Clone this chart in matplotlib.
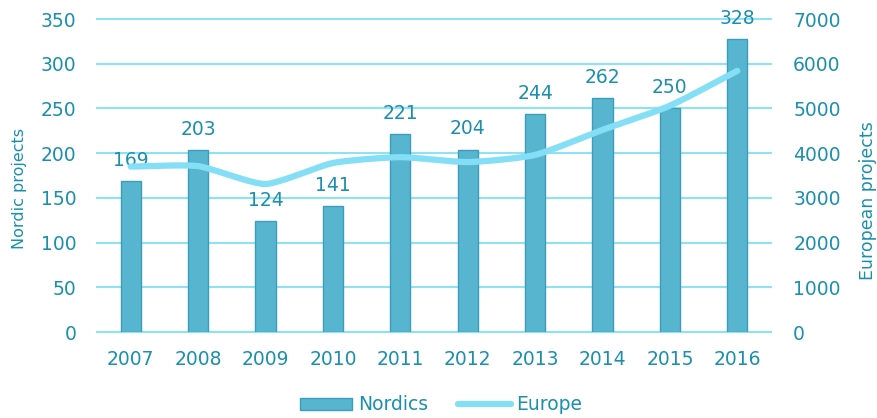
import numpy as np
import matplotlib.pyplot as plt

years = ['2007', '2008', '2009', '2010', '2011', '2012', '2013', '2014', '2015', '2016']
nordics = [169, 203, 124, 141, 221, 204, 244, 262, 250, 328]
europe = [3700, 3710, 3310, 3780, 3910, 3800, 3960, 4520, 5060, 5840]

text_col = '#1a8fae'
bar_col = '#57b5cf'
bar_edge = '#3c9dbb'
line_col = '#84def5'
grid_col = '#8fe2f6'


def smooth(xs, ys, n=20, tension=0.6):
    # cardinal spline through the points, like a smoothed Excel line
    xs = np.asarray(xs, float)
    ys = np.asarray(ys, float)
    px = np.concatenate([[2 * xs[0] - xs[1]], xs, [2 * xs[-1] - xs[-2]]])
    py = np.concatenate([[2 * ys[0] - ys[1]], ys, [2 * ys[-1] - ys[-2]]])
    out_x, out_y = [], []
    t = np.linspace(0, 1, n, endpoint=False)
    h00 = 2 * t ** 3 - 3 * t ** 2 + 1
    h10 = t ** 3 - 2 * t ** 2 + t
    h01 = -2 * t ** 3 + 3 * t ** 2
    h11 = t ** 3 - t ** 2
    for i in range(1, len(px) - 2):
        for p, o in ((px, out_x), (py, out_y)):
            m1 = tension * (p[i + 1] - p[i - 1]) / 2
            m2 = tension * (p[i + 2] - p[i]) / 2
            o.extend(h00 * p[i] + h10 * m1 + h01 * p[i + 1] + h11 * m2)
    out_x.append(xs[-1])
    out_y.append(ys[-1])
    return out_x, out_y


fig = plt.figure(figsize=(8.77, 4.18), dpi=100)
ax = fig.add_axes([97 / 877, 1 - 332 / 418, 674 / 877, 313 / 418])
ax2 = ax.twinx()

x = np.arange(len(years))
ax.bar(x, nordics, width=0.3, color=bar_col, edgecolor=bar_edge, linewidth=1,
       label='Nordics', zorder=2)
for xi, v in zip(x, nordics):
    ax.text(xi, v + 23, str(v), ha='center', va='center', color=text_col,
            fontsize=13.5, zorder=5)

sx, sy = smooth(x, europe)
ax2.plot(sx, sy, color=line_col, linewidth=4.5, solid_capstyle='round',
         label='Europe')

ax.set_xlim(-0.5, len(years) - 0.5)
ax.set_ylim(0, 350)
ax.set_yticks(range(0, 351, 50))
ax2.set_ylim(0, 7000)
ax2.set_yticks(range(0, 7001, 1000))
ax.set_xticks(x)
ax.set_xticklabels(years)

# horizontal gridlines, drawn unclipped so the edge ones keep full width
for v in range(0, 351, 50):
    ax.axhline(v, color=grid_col, linewidth=1.5, zorder=0, clip_on=False)
for a in (ax, ax2):
    for s in a.spines.values():
        s.set_visible(False)
    a.tick_params(length=0, labelsize=13.5, labelcolor=text_col)
ax.tick_params(axis='x', pad=13)
ax.tick_params(axis='y', pad=15)
ax2.tick_params(axis='y', pad=16)

ax.set_ylabel('Nordic projects', color=text_col, fontsize=11.5)
ax.yaxis.set_label_coords(-0.104, 0.46)
ax2.set_ylabel('European projects', color=text_col, fontsize=12.5)
ax2.yaxis.set_label_coords(1.13, 0.42)

h1, l1 = ax.get_legend_handles_labels()
h2, l2 = ax2.get_legend_handles_labels()
fig.legend(h1 + h2, l1 + l2, loc='center', bbox_to_anchor=(441 / 877, 1 - 405 / 418),
           ncol=2, frameon=False, fontsize=13.5, labelcolor=text_col,
           handlelength=2.8, handleheight=0.6, columnspacing=1.6, handletextpad=0.3)

fig.savefig('out.png', dpi=100)
